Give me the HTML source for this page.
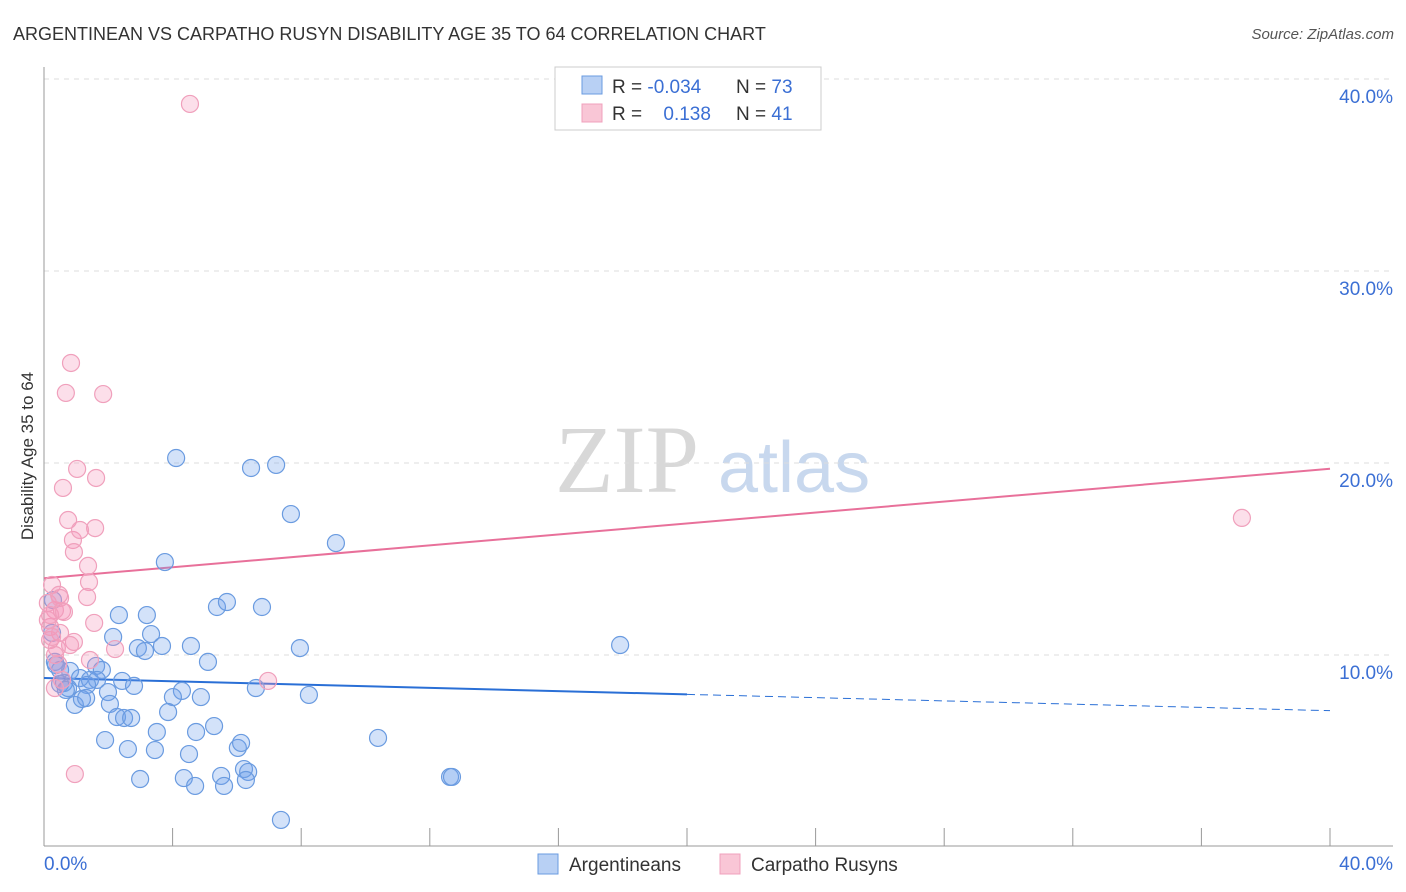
<!DOCTYPE html>
<html><head><meta charset="utf-8"><style>
body{margin:0;background:#fff;font-family:"Liberation Sans",sans-serif;}
svg{display:block}
</style></head><body>
<svg id="chart" width="1406" height="892">
<text x="13" y="40" font-size="18" fill="#333">ARGENTINEAN VS CARPATHO RUSYN DISABILITY AGE 35 TO 64 CORRELATION CHART</text>
<text x="1394" y="39" font-size="15" fill="#555" text-anchor="end" font-style="italic">Source: ZipAtlas.com</text>
<text x="33" y="456" font-size="17" fill="#333" text-anchor="middle" transform="rotate(-90 33 456)">Disability Age 35 to 64</text>
<g>
<text x="555" y="492" font-size="96" fill="#d8d8d8" font-family="Liberation Serif,serif">ZIP</text>
<text x="718" y="492" font-size="72" fill="#c8d8ee">atlas</text>
</g>
<g id="grid"></g><g id="axes"></g><g id="trends"></g><g id="points"></g>
<g>
<rect x="555" y="67" width="266" height="63" fill="#fff" stroke="#ccc"/>
<rect x="582" y="76" width="20" height="18" fill="#b8d0f4" stroke="#6a9be0"/>
<rect x="582" y="104" width="20" height="18" fill="#f9c6d6" stroke="#f0a0bc"/>
<text x="612" y="93" font-size="19" fill="#333">R = <tspan fill="#3b6fd4">-0.034</tspan></text>
<text x="736" y="93" font-size="19" fill="#333">N = <tspan fill="#3b6fd4">73</tspan></text>
<text x="612" y="120" font-size="19" fill="#333">R = <tspan fill="#3b6fd4" dx="16">0.138</tspan></text>
<text x="736" y="120" font-size="19" fill="#333">N = <tspan fill="#3b6fd4"> 41</tspan></text>
</g>
<g>
<rect x="538" y="854" width="20" height="20" fill="#b8d0f4" stroke="#6a9be0"/>
<text x="569" y="871" font-size="19" fill="#333">Argentineans</text>
<rect x="720" y="854" width="20" height="20" fill="#f9c6d6" stroke="#f0a0bc"/>
<text x="751" y="871" font-size="19" fill="#333">Carpatho Rusyns</text>
</g>
</svg>
<script>
const yTicks=[10,20,30,40];
const yTickLabels=["10.0%","20.0%","30.0%","40.0%"];
const xTickVals=[0,4,8,12,16,20,24,28,32,36,40];
const blueX=[4.11,6.44,7.22,7.68,9.08,3.76,5.38,5.69,6.78,2.33,3.20,3.33,2.15,2.92,3.14,3.67,4.57,5.10,7.96,17.92,0.34,0.50,0.81,1.62,1.80,1.12,1.43,1.65,0.62,0.75,1.34,1.99,2.43,2.80,4.29,4.01,4.88,6.59,8.24,0.96,1.18,1.31,2.05,2.27,2.49,2.71,3.86,4.73,5.29,3.51,1.90,2.61,3.45,6.03,6.13,10.39,4.51,2.99,4.35,4.70,5.51,5.60,6.22,6.35,6.28,12.63,12.69,7.37,0.37,0.50,0.68,0.25,0.28];
const blueY=[20.26,19.74,19.90,17.34,15.83,14.84,12.50,12.76,12.50,12.08,12.08,11.09,10.94,10.36,10.21,10.47,10.47,9.64,10.36,10.52,9.64,9.22,9.17,9.43,9.22,8.80,8.70,8.70,8.54,8.28,8.44,8.07,8.65,8.39,8.13,7.81,7.81,8.28,7.92,7.40,7.71,7.76,7.45,6.77,6.72,6.72,7.03,5.99,6.30,5.99,5.57,5.10,5.05,5.16,5.42,5.68,4.84,3.54,3.59,3.18,3.70,3.18,4.06,3.91,3.49,3.65,3.65,1.41,9.48,8.49,8.18,11.15,12.86];
const pinkX=[4.54,0.84,0.68,1.84,1.03,1.62,0.59,0.75,1.59,0.90,0.93,1.37,0.25,1.40,0.47,1.34,0.56,0.34,1.56,0.19,0.50,0.19,0.93,0.40,2.21,1.43,0.56,0.34,0.96,6.97,37.26,0.12,0.12,0.19,0.25,0.34,0.50,0.62,1.12,0.44,0.81];
const pinkY=[38.70,25.21,23.65,23.59,19.69,19.22,18.70,17.03,16.61,15.99,15.36,14.64,13.65,13.80,13.13,13.02,12.29,12.34,11.67,11.46,11.15,10.78,10.68,10.36,10.31,9.74,8.70,8.28,3.80,8.65,17.14,12.71,11.82,12.08,10.94,10.00,12.97,12.24,16.51,9.53,10.52];
const blueTrend=[8.8,7.1];
const pinkTrend=[14.0,19.7];
const X=v=>44+v*32.15, Y=v=>847-v*19.2;
const NS="http://www.w3.org/2000/svg";
function mk(t,a,p){const e=document.createElementNS(NS,t);for(const k in a)e.setAttribute(k,a[k]);p.appendChild(e);return e;}
const grid=document.getElementById('grid'),axes=document.getElementById('axes'),tr=document.getElementById('trends'),pts=document.getElementById('points');
yTicks.forEach((v,i)=>{
 const l=mk('line',{x1:44,x2:1393,y1:Y(v),y2:Y(v),stroke:'#ddd','stroke-dasharray':'5,5'},grid);
 
 
 const t=mk('text',{x:1393,y:Y(v)+24,'font-size':19,fill:'#3b6fd4','text-anchor':'end'},axes);
 t.textContent=yTickLabels[i];
 
 
});
const ya=mk('line',{x1:44,x2:44,y1:67,y2:846,stroke:'#999'},axes);


const xa=mk('line',{x1:44,x2:1393,y1:846,y2:846,stroke:'#999'},axes);


xTickVals.forEach(v=>{const t=mk('line',{x1:X(v),x2:X(v),y1:828,y2:846,stroke:'#999'},axes);
 
 });
const x0=mk('text',{x:44,y:870,'font-size':19,fill:'#3b6fd4'},axes);x0.textContent='0.0%';


const x1=mk('text',{x:1393,y:870,'font-size':19,fill:'#3b6fd4','text-anchor':'end'},axes);x1.textContent='40.0%';


function drawPts(xs,ys,fill,stroke,name){xs.forEach((x,i)=>{const c=mk('circle',{cx:X(x),cy:Y(ys[i]),r:8.5,fill:fill,stroke:stroke,'stroke-width':1.2},pts);
 
 });}
drawPts(blueX,blueY,'rgba(110,160,235,0.3)','#6a9be0','argentinean-point');
drawPts(pinkX,pinkY,'rgba(245,150,185,0.3)','#f0a0bc','carpatho-rusyn-point');
const bv=v=>blueTrend[0]+(blueTrend[1]-blueTrend[0])*v/40;
const b1=mk('line',{x1:X(0),y1:Y(bv(0)),x2:X(20),y2:Y(bv(20)),stroke:'#2a6fd6','stroke-width':2},tr);


const b2=mk('line',{x1:X(20),y1:Y(bv(20)),x2:X(40),y2:Y(bv(40)),stroke:'#2a6fd6','stroke-width':1,'stroke-dasharray':'8,5'},tr);


const p1=mk('line',{x1:X(0),y1:Y(pinkTrend[0]),x2:X(40),y2:Y(pinkTrend[1]),stroke:'#e8709a','stroke-width':2},tr);


</script>
</body></html>
